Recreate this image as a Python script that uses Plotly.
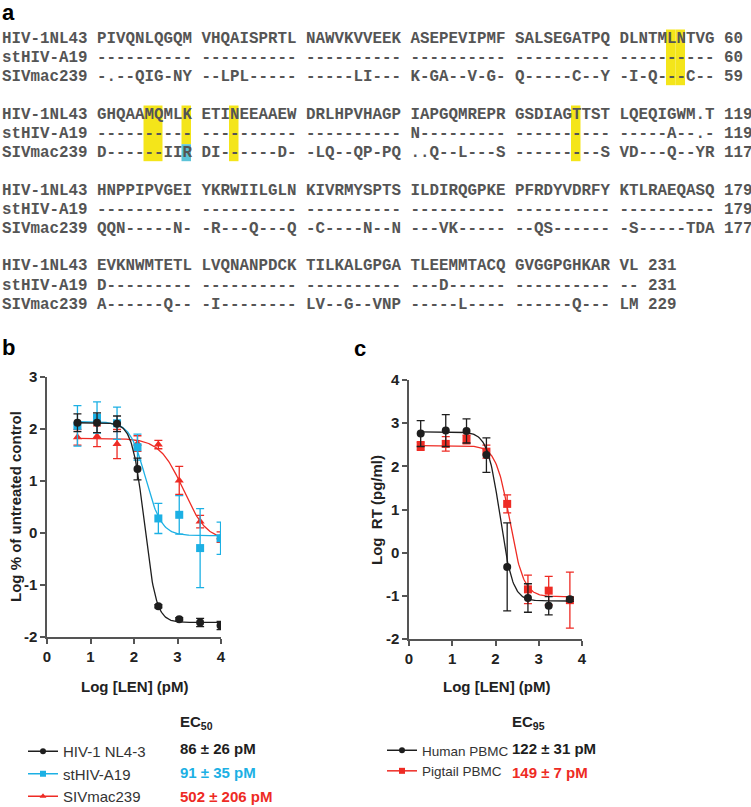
import numpy as np
import plotly.graph_objects as go

W, H = 751, 807

# ---------------- Panel a: sequence alignment data ----------------
seq_names = ["HIV-1NL43", "stHIV-A19", "SIVmac239"]
hiv_seq = ["PIVQNLQGQM VHQAISPRTL NAWVKVVEEK ASEPEVIPMF SALSEGATPQ DLNTMLNTVG",
           "GHQAAMQMLK ETINEEAAEW DRLHPVHAGP IAPGQMREPR GSDIAGTTST LQEQIGWM.T",
           "HNPPIPVGEI YKRWIILGLN KIVRMYSPTS ILDIRQGPKE PFRDYVDRFY KTLRAEQASQ",
           "EVKNWMTETL LVQNANPDCK TILKALGPGA TLEEMMTACQ GVGGPGHKAR VL"]
sthiv_seq = ["---------- ---------- ---------- ---------- ---------- ----------",
             "---------- ---------- ---------- N--------- ---------- -----A--.-",
             "---------- ---------- ---------- ---------- ---------- ----------",
             "D--------- ---------- ---------- ---D------ ---------- --"]
siv_seq = ["-.--QIG-NY --LPL----- -----LI--- K-GA--V-G- Q-----C--Y -I-Q---C--",
           "D------IIR DI------D- -LQ--QP-PQ ..Q--L---S ---------S VD---Q--YR",
           "QQN-----N- -R---Q---Q -C----N--N ---VK----- --QS------ -S-----TDA",
           "A------Q-- -I-------- LV--G--VNP -----L---- ------Q--- LM"]
hiv_end = [60, 119, 179, 231]
sthiv_end = [60, 119, 179, 231]
siv_end = [59, 117, 177, 229]
# highlighted alignment columns: (block, column in printed line)
yellow_cols = [(0, 70), (0, 71), (1, 15), (1, 16), (1, 19), (1, 24), (1, 60)]
cyan_cells = [(1, 19)]

# ---------------- Panel b data ----------------
b_x = [0.70, 1.15, 1.61, 2.08, 2.56, 3.04, 3.52, 3.99]
b_hiv = [2.12, 2.12, 2.10, 1.23, -1.41, -1.66, -1.72, -1.78]
b_hiv_err = [0.17, 0.19, 0.15, 0.21, 0.03, 0.03, 0.08, 0.08]
b_st = [2.06, 2.22, 2.11, 1.65, 0.28, 0.35, -0.29, -0.10]
b_st_err = [0.39, 0.30, 0.31, 0.25, 0.29, 0.37, 0.76, 0.31]
b_siv = [1.84, 1.86, 1.71, 1.72, 1.70, 1.01, 0.22, -0.08]
b_siv_err = [0.15, 0.20, 0.28, 0.15, 0.08, 0.27, 0.12, 0.10]
# 4PL fit parameters: top, bottom, logEC, hill
b_hiv_fit = [2.12, -1.72, 2.234, 3.18]
b_st_fit = [2.14, -0.05, 2.27, 2.41]
b_siv_fit = [1.82, -0.15, 3.13, 1.61]
b_names = ["HIV-1 NL4-3", "stHIV-A19", "SIVmac239"]
b_ec = ["86 ± 26 pM", "91 ± 35 pM", "502 ± 206 pM"]

# ---------------- Panel c data ----------------
c_x = [0.27, 0.85, 1.33, 1.79, 2.27, 2.75, 3.23, 3.72]
c_human = [2.76, 2.83, 2.82, 2.26, -0.33, -1.05, -1.23, -1.08]
c_human_err = [0.30, 0.37, 0.28, 0.40, 1.02, 0.33, 0.21, 0.05]
c_pig = [2.47, 2.52, 2.62, 2.34, 1.13, -0.85, -0.88, -1.10]
c_pig_err = [0.10, 0.17, 0.10, 0.15, 0.21, 0.33, 0.33, 0.65]
c_human_fit = [2.80, -1.12, 2.104, 3.0]
c_pig_fit = [2.48, -1.02, 2.33, 2.72]
c_names = ["Human PBMC", "Pigtail PBMC"]
c_ec = ["122 ± 31 pM", "149 ± 7 pM"]

BLACK = "#1e1e1e"
CYAN = "#1cb0e4"
RED = "#ee2b24"
AX = "#555555"
SANS = "Liberation Sans, Arial, sans-serif"
MONO = "Liberation Mono, Courier New, monospace"


def px(x):
    return x / W


def py(y):
    return 1 - y / H


def fourpl(p, xs):
    top, bot, ec, h = p
    xs = np.asarray(xs)
    return bot + (top - bot) / (1 + 10 ** ((xs - ec) * h))


fig = go.Figure()

def add_series(xa, ya, x, y, err, fit, color, symbol):
    xs = np.linspace(min(x), max(x), 200)
    fig.add_trace(go.Scatter(x=xs, y=fourpl(fit, xs), mode="lines",
                             line=dict(color=color, width=1.3), showlegend=False,
                             xaxis=xa, yaxis=ya, hoverinfo="skip"))
    fig.add_trace(go.Scatter(x=x, y=y, mode="markers",
                             marker=dict(color=color, symbol=symbol, size=8),
                             error_y=dict(type="data", array=err, color=color,
                                          thickness=1.3, width=4),
                             showlegend=False, xaxis=xa, yaxis=ya))

# draw order: bottom first
add_series("x", "y", b_x, b_siv, b_siv_err, b_siv_fit, RED, "triangle-up")
add_series("x", "y", b_x, b_st, b_st_err, b_st_fit, CYAN, "square")
add_series("x", "y", b_x, b_hiv, b_hiv_err, b_hiv_fit, BLACK, "circle")
add_series("x2", "y2", c_x, c_pig, c_pig_err, c_pig_fit, RED, "square")
add_series("x2", "y2", c_x, c_human, c_human_err, c_human_fit, BLACK, "circle")

# legend entries
for name, col, sym in zip(b_names, [BLACK, CYAN, RED], ["circle", "square", "triangle-up"]):
    fig.add_trace(go.Scatter(x=[None], y=[None], mode="lines+markers", name=name,
                             line=dict(color=col, width=1.5),
                             marker=dict(color=col, symbol=sym, size=6),
                             xaxis="x", yaxis="y", legend="legend"))
for name, col, sym in zip(c_names, [BLACK, RED], ["circle", "square"]):
    fig.add_trace(go.Scatter(x=[None], y=[None], mode="lines+markers", name=name,
                             line=dict(color=col, width=1.5),
                             marker=dict(color=col, symbol=sym, size=6),
                             xaxis="x2", yaxis="y2", legend="legend2"))

tickfont = dict(family=SANS, size=15, color="#222222", weight="bold")
axis_common = dict(showline=True, linecolor=AX, linewidth=1.5, ticks="outside",
                   ticklen=5, tickwidth=1.5, tickcolor=AX, showgrid=False,
                   zeroline=False, tickfont=tickfont, fixedrange=True)

annotations = []
shapes = []

def ann(x, y, text, size=15, color="#222222", bold=False, family=SANS,
        xanchor="left", yanchor="middle", angle=0):
    annotations.append(dict(x=px(x), y=py(y), xref="paper", yref="paper",
                            text=text, showarrow=False, xanchor=xanchor,
                            yanchor=yanchor, textangle=angle, borderpad=0,
                            font=dict(family=family, size=size, color=color,
                                      weight="bold" if bold else "normal")))

# ---- panel a text ----
CW = 9.5
X0 = 1.0
ROW0 = 38.5
BLOCK = 76.0
ROWH = 19.35
for b in range(4):
    rows = [(seq_names[0], hiv_seq[b], hiv_end[b]),
            (seq_names[1], sthiv_seq[b], sthiv_end[b]),
            (seq_names[2], siv_seq[b], siv_end[b])]
    for r, (nm, s, e) in enumerate(rows):
        line = f"{nm} {s} {e}"
        ann(X0, ROW0 + BLOCK * b + ROWH * r, line, size=15.83, color="#555555",
            bold=True, family=MONO)

for (b, c) in yellow_cols:
    y_top = ROW0 + BLOCK * b - 9
    y_bot = ROW0 + BLOCK * b + 2 * ROWH + 8
    if (b, c) in cyan_cells:
        y_bot = ROW0 + BLOCK * b + 2 * ROWH - 9
    shapes.append(dict(type="rect", xref="paper", yref="paper",
                       x0=px(X0 + c * CW), x1=px(X0 + (c + 1) * CW),
                       y0=py(y_bot), y1=py(y_top), fillcolor="#f4e51a",
                       line=dict(width=0), layer="below"))
for (b, c) in cyan_cells:
    y_top = ROW0 + BLOCK * b + 2 * ROWH - 9
    y_bot = ROW0 + BLOCK * b + 2 * ROWH + 8
    shapes.append(dict(type="rect", xref="paper", yref="paper",
                       x0=px(X0 + c * CW), x1=px(X0 + (c + 1) * CW),
                       y0=py(y_bot), y1=py(y_top), fillcolor="#5cc3d8",
                       line=dict(width=0), layer="below"))

# panel labels
ann(1, 13, "a", size=22, color="#000000", bold=True)
ann(1, 347, "b", size=22, color="#000000", bold=True)
ann(353, 348, "c", size=22, color="#000000", bold=True)

# axis titles
ann(15, 507, "Log % of untreated control", size=15, bold=True, xanchor="center", angle=-90)
ann(134, 686, "Log [LEN] (pM)", size=15, bold=True, xanchor="center")
ann(376, 510, "Log\u00a0\u00a0RT (pg/ml)", size=15, bold=True, xanchor="center", angle=-90)
ann(496, 686, "Log [LEN] (pM)", size=15, bold=True, xanchor="center")

# EC headers and values
ann(179, 722, "EC<sub>50</sub>", size=15, bold=True)
for i, (t, col) in enumerate(zip(b_ec, [BLACK, CYAN, RED])):
    ann(179, 748 + 24.2 * i, t, size=15, bold=True, color=col)
ann(511, 722, "EC<sub>95</sub>", size=15, bold=True)
for i, (t, col) in enumerate(zip(c_ec, [BLACK, RED])):
    ann(511, 748 + 24.2 * i, t, size=15, bold=True, color=col)

legend_common = dict(bgcolor="rgba(0,0,0,0)", xanchor="left", yanchor="top",
                     tracegroupgap=0, itemwidth=30, traceorder="normal")

fig.update_layout(
    width=W, height=H, margin=dict(l=0, r=0, t=0, b=0, autoexpand=False),
    paper_bgcolor="white", plot_bgcolor="white",
    xaxis=dict(domain=[px(47), px(221)], range=[0, 4], tickvals=[0, 1, 2, 3, 4],
               anchor="y", **axis_common),
    yaxis=dict(domain=[py(637), py(377)], range=[-2, 3],
               tickvals=[-2, -1, 0, 1, 2, 3],
               ticktext=["-2", "-1", "0", "1", "2", "3"], anchor="x", **axis_common),
    xaxis2=dict(domain=[px(409), px(582)], range=[0, 4], tickvals=[0, 1, 2, 3, 4],
                anchor="y2", **axis_common),
    yaxis2=dict(domain=[py(639), py(380)], range=[-2, 4],
                tickvals=[-2, -1, 0, 1, 2, 3, 4],
                ticktext=["-2", "-1", "0", "1", "2", "3", "4"], anchor="x2", **axis_common),
    legend=dict(x=px(23), y=py(735), font=dict(family=SANS, size=15, color="#333333"),
                **legend_common),
    legend2=dict(x=px(382), y=py(735), font=dict(family=SANS, size=13.5, color="#333333"),
                 **legend_common),
    annotations=annotations, shapes=shapes,
)

fig.write_html("out.html", config={"displayModeBar": False},
               post_script="document.body.style.margin='0px';document.body.style.overflow='hidden';")
